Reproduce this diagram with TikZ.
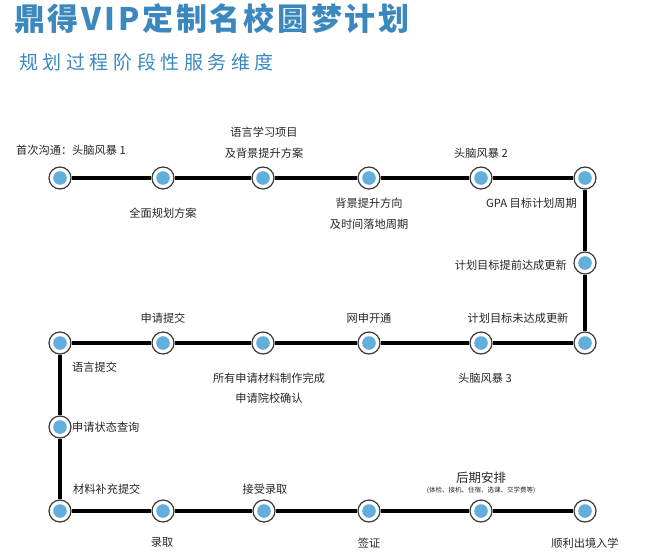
\documentclass[tikz,border=0pt]{standalone}
\usepackage{fontspec}
\setmainfont{Noto Sans CJK SC}
\definecolor{titleblue}{HTML}{3A88BE}
\definecolor{dotblue}{HTML}{62AEDC}
\definecolor{ringgray}{HTML}{3A3A3A}
\definecolor{txt}{HTML}{262626}
\begin{document}
\begin{tikzpicture}[x=1pt,y=-1pt,
  stop/.style={circle,draw=ringgray,line width=1.2pt,fill=white,minimum size=22pt,inner sep=0pt,
    path picture={\fill[dotblue] (path picture bounding box.center) circle (6.8pt);}},
  lab/.style={font=\fontsize{11.2}{13}\selectfont,text=txt,inner sep=0pt},
  track/.style={line width=3.6pt,black}]
\useasboundingbox (0,0) rectangle (668,553);
% titles
\node[anchor=west,inner sep=0pt,text=titleblue,font=\addfontfeatures{LetterSpace=9}\fontsize{31}{33}\selectfont\bfseries] (title) at (14,19) {鼎得VIP定制名校圆梦计划};
\node[anchor=west,inner sep=0pt,text=titleblue,font=\addfontfeatures{LetterSpace=24}\fontsize{19}{21}\selectfont] (subtitle) at (19,62) {规划过程阶段性服务维度};
% stops
\node[stop] (a1) at (60,178) {};
\node[stop] (a2) at (163,178) {};
\node[stop] (a3) at (263,178) {};
\node[stop] (a4) at (369,178) {};
\node[stop] (a5) at (481,178) {};
\node[stop] (a6) at (585,178) {};
\node[stop] (m1) at (585,263) {};
\node[stop] (b6) at (585,343) {};
\node[stop] (b5) at (481,343) {};
\node[stop] (b4) at (369,343) {};
\node[stop] (b3) at (263,343) {};
\node[stop] (b2) at (163,343) {};
\node[stop] (b1) at (60,343) {};
\node[stop] (m2) at (60,427) {};
\node[stop] (c1) at (60,511) {};
\node[stop] (c2) at (163,511) {};
\node[stop] (c3) at (264,511) {};
\node[stop] (c4) at (369,511) {};
\node[stop] (c5) at (481,511) {};
\node[stop] (c6) at (585,511) {};
% track
\draw[track] (a1)--(a2); \draw[track] (a2)--(a3); \draw[track] (a3)--(a4);
\draw[track] (a4)--(a5); \draw[track] (a5)--(a6); \draw[track] (a6)--(m1);
\draw[track] (m1)--(b6); \draw[track] (b6)--(b5); \draw[track] (b5)--(b4);
\draw[track] (b4)--(b3); \draw[track] (b3)--(b2); \draw[track] (b2)--(b1);
\draw[track] (b1)--(m2); \draw[track] (m2)--(c1); \draw[track] (c1)--(c2);
\draw[track] (c2)--(c3); \draw[track] (c3)--(c4); \draw[track] (c4)--(c5);
\draw[track] (c5)--(c6);
% labels row 1
\node[lab] (la1) at (71,150) {首次沟通：头脑风暴 1};
\node[lab] (la2) at (163,213) {全面规划方案};
\node[lab] (la3a) at (264,132) {语言学习项目};
\node[lab] (la3b) at (264,153) {及背景提升方案};
\node[lab] (la4a) at (369,203) {背景提升方向};
\node[lab] (la4b) at (369,224) {及时间落地周期};
\node[lab] (la5) at (481,153) {头脑风暴 2};
\node[lab,anchor=east] (la6) at (577,203) {GPA 目标计划周期};
\node[lab,anchor=east] (lm1) at (567,265) {计划目标提前达成更新};
% labels row 2
\node[lab] (lb6) at (518,318) {计划目标未达成更新};
\node[lab] (lb4) at (369,318) {网申开通};
\node[lab] (lb2) at (163,318) {申请提交};
\node[lab] (lb5) at (485,378) {头脑风暴 3};
\node[lab] (lb3a) at (269,378) {所有申请材料制作完成};
\node[lab] (lb3b) at (269,398) {申请院校确认};
\node[lab,anchor=west] (lb1) at (72,367) {语言提交};
\node[lab,anchor=west] (lm2) at (72,427) {申请状态查询};
% labels row 3
\node[lab,anchor=west] (lc1) at (73,489) {材料补充提交};
\node[lab] (lc2) at (162,543) {录取};
\node[lab] (lc3) at (265,489) {接受录取};
\node[lab] (lc4) at (369,543) {签证};
\node[lab,font=\fontsize{12.5}{14}\selectfont] (lc5) at (481,478) {后期安排};
\node[lab,font=\fontsize{6.5}{8}\selectfont] (lc5s) at (481,490) {(体检、接机、住宿、选课、交学费等)};
\node[lab] (lc6) at (585,543) {顺利出境入学};
\end{tikzpicture}
\end{document}
